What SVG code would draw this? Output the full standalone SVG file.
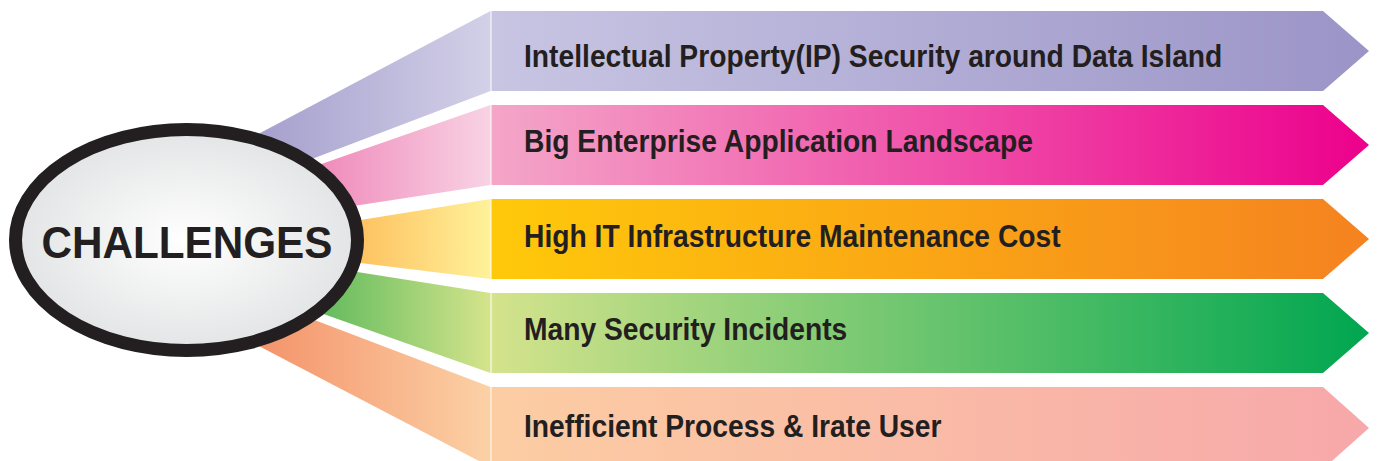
<svg xmlns="http://www.w3.org/2000/svg" width="1377" height="461" viewBox="0 0 1377 461">
<defs>
<linearGradient id="f1" gradientUnits="userSpaceOnUse" x1="260" y1="0" x2="491" y2="0"><stop offset="0" stop-color="#a6a0cd"/><stop offset="1" stop-color="#d3d0e8"/></linearGradient>
<linearGradient id="f2" gradientUnits="userSpaceOnUse" x1="300" y1="0" x2="491" y2="0"><stop offset="0" stop-color="#ef82b6"/><stop offset="1" stop-color="#f8d3e4"/></linearGradient>
<linearGradient id="f3" gradientUnits="userSpaceOnUse" x1="340" y1="0" x2="491" y2="0"><stop offset="0" stop-color="#fdbb58"/><stop offset="1" stop-color="#fff29a"/></linearGradient>
<linearGradient id="f4" gradientUnits="userSpaceOnUse" x1="320" y1="0" x2="491" y2="0"><stop offset="0" stop-color="#62bb5d"/><stop offset="1" stop-color="#d5e48c"/></linearGradient>
<linearGradient id="f5" gradientUnits="userSpaceOnUse" x1="260" y1="0" x2="491" y2="0"><stop offset="0" stop-color="#f4946b"/><stop offset="1" stop-color="#fcd1a6"/></linearGradient>
<linearGradient id="a1" gradientUnits="userSpaceOnUse" x1="491" y1="0" x2="1369" y2="0"><stop offset="0" stop-color="#c8c5e3"/><stop offset="1" stop-color="#9b94c7"/></linearGradient>
<linearGradient id="a2" gradientUnits="userSpaceOnUse" x1="491" y1="0" x2="1369" y2="0"><stop offset="0" stop-color="#f4a6c8"/><stop offset="1" stop-color="#ec008c"/></linearGradient>
<linearGradient id="a3" gradientUnits="userSpaceOnUse" x1="491" y1="0" x2="1369" y2="0"><stop offset="0" stop-color="#ffc90a"/><stop offset="1" stop-color="#f58220"/></linearGradient>
<linearGradient id="a4" gradientUnits="userSpaceOnUse" x1="491" y1="0" x2="1369" y2="0"><stop offset="0" stop-color="#d4e38c"/><stop offset="1" stop-color="#00a650"/></linearGradient>
<linearGradient id="a5" gradientUnits="userSpaceOnUse" x1="491" y1="0" x2="1369" y2="0"><stop offset="0" stop-color="#fccda3"/><stop offset="1" stop-color="#f7a8aa"/></linearGradient>
<radialGradient id="eg" cx="0.5" cy="0.5" r="0.5"><stop offset="0" stop-color="#ffffff"/><stop offset="1" stop-color="#e3e4e5"/></radialGradient>
</defs>
<style>
.lbl{font-family:"Liberation Sans",Arial,sans-serif;font-weight:bold;font-size:31.5px;fill:#231f20}
.hub{font-family:"Liberation Sans",Arial,sans-serif;font-weight:bold;font-size:44px;fill:#231f20}
</style>
<g id="connectors">
<polygon points="230,149 490.5,11 490.5,91 230,190" fill="url(#f1)"/>
<polygon points="230,196 490.5,105 490.5,185 230,225" fill="url(#f2)"/>
<polygon points="230,241 490.5,199 490.5,279 230,247" fill="url(#f3)"/>
<polygon points="230,252 490.5,293 490.5,373 230,281" fill="url(#f4)"/>
<polygon points="230,288 490.5,387 490.5,467 230,331" fill="url(#f5)"/>
</g>
<g id="node-1">
<polygon points="491.5,11 1323,11 1369,51 1323,91 491.5,91" fill="url(#a1)"/>
<text class="lbl" transform="matrix(0.897 0 0 1 524 67)">Intellectual Property(IP) Security around Data Island</text>
</g>
<g id="node-2">
<polygon points="491.5,105 1323,105 1369,145 1323,185 491.5,185" fill="url(#a2)"/>
<text class="lbl" transform="matrix(0.897 0 0 1 524 152)">Big Enterprise Application Landscape</text>
</g>
<g id="node-3">
<polygon points="491.5,199 1323,199 1369,239 1323,279 491.5,279" fill="url(#a3)"/>
<text class="lbl" transform="matrix(0.897 0 0 1 524 247)">High IT Infrastructure Maintenance Cost</text>
</g>
<g id="node-4">
<polygon points="491.5,293 1323,293 1369,333 1323,373 491.5,373" fill="url(#a4)"/>
<text class="lbl" transform="matrix(0.897 0 0 1 524 340)">Many Security Incidents</text>
</g>
<g id="node-5">
<polygon points="491.5,387 1323,387 1369,428 1323,469 491.5,469" fill="url(#a5)"/>
<text class="lbl" transform="matrix(0.897 0 0 1 524 437)">Inefficient Process &amp; Irate User</text>
</g>
<g id="hub">
<ellipse cx="186.5" cy="240" rx="171" ry="110.5" fill="url(#eg)" stroke="#231f20" stroke-width="13"/>
<text class="hub" text-anchor="middle" transform="matrix(0.96 0 0 1 187 258)">CHALLENGES</text>
</g>
</svg>
